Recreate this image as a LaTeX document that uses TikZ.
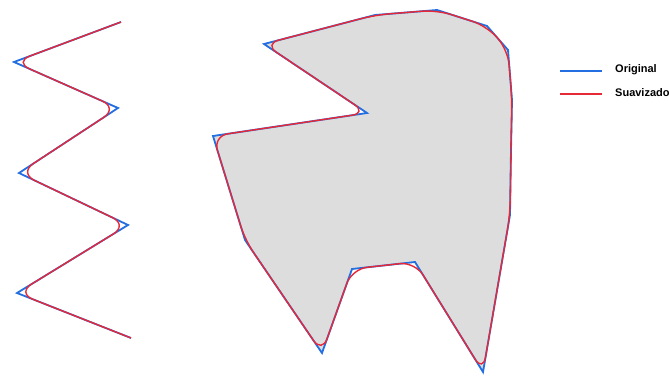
\documentclass[tikz,border=0pt]{standalone}
\usepackage{fontspec}
\setmainfont{Liberation Sans}
\begin{document}
\begin{tikzpicture}[x=1pt,y=-1pt,
  orig/.style={draw=origblue,line width=1.8pt,line join=miter},
  smooth/.style={draw=smred,line width=1.4pt,rounded corners=15pt},
  legtext/.style={anchor=west,font=\fontsize{11}{13}\selectfont\bfseries,inner sep=0pt}]
\definecolor{origblue}{RGB}{35,110,225}
\definecolor{smred}{RGB}{230,40,55}
\definecolor{fillgray}{RGB}{221,221,221}
\useasboundingbox (0,0) rectangle (669,375);
% zigzag
\draw[orig] (121,22) -- (14,62) -- (118,108) -- (19,173) -- (128,225) -- (17,293) -- (131,338);
\draw[smooth,rounded corners=17pt] (121,22) -- (14,62) -- (118,108) -- (19,173) -- (128,225) -- (17,293) -- (131,338);
% polygon
\fill[fillgray] (511,150) -- (510,215) -- (483,372) -- (415,262) -- (352,269) -- (322,353) -- (245,240) -- (213,136) -- (367,113) -- (264,44) -- (375,15) -- (437,10) -- (487,26) -- (508,50) -- (512,100) -- cycle;
\draw[orig] (511,150) -- (510,215) -- (483,372) -- (415,262) -- (352,269) -- (322,353) -- (245,240) -- (213,136) -- (367,113) -- (264,44) -- (375,15) -- (437,10) -- (487,26) -- (508,50) -- (512,100) -- cycle;
\draw[smooth] (511,150) -- (510,215) -- (483,372) -- (415,262) -- (352,269) -- (322,353) -- (245,240) -- (213,136) -- (367,113) -- (264,44) -- (375,15) -- (437,10) -- (487,26) -- (508,50) -- (512,100) -- (511,150);
% legend
\coordinate (l1a) at (560,71); \coordinate (l1b) at (602,71);
\coordinate (l2a) at (560,94); \coordinate (l2b) at (602,94);
\draw[origblue,line width=1.8pt] (l1a) -- (l1b);
\draw[smred,line width=1.8pt] (l2a) -- (l2b);
\node[legtext] (t1) at (615,70) {Original};
\node[legtext] (t2) at (615,93) {Suavizado};
\end{tikzpicture}
\end{document}
